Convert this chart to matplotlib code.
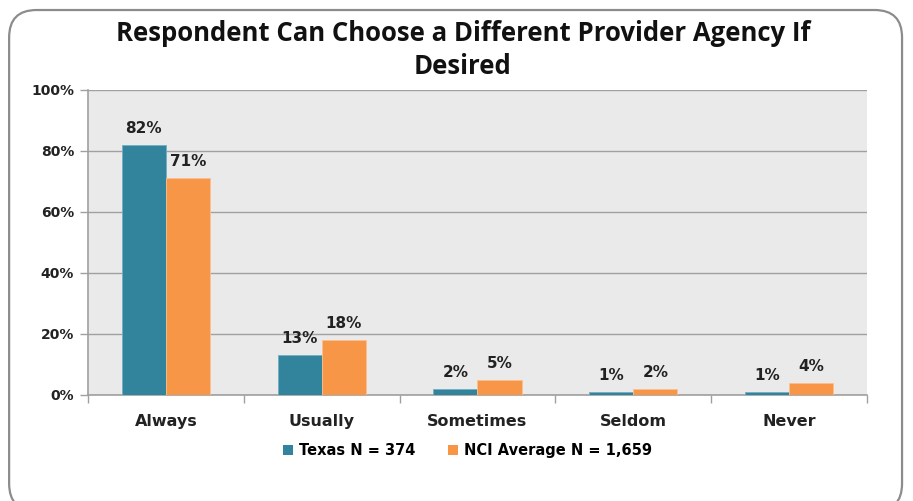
import matplotlib
matplotlib.use("Agg")
import matplotlib.pyplot as plt
import numpy as np
from matplotlib.patches import FancyBboxPatch, Patch

categories = ["Always", "Usually", "Sometimes", "Seldom", "Never"]
texas = [82, 13, 2, 1, 1]
nci = [71, 18, 5, 2, 4]
series_names = ["Texas N = 374", "NCI Average N = 1,659"]
yticks = [0, 20, 40, 60, 80, 100]

teal = "#31849B"
orange = "#F79646"
axis_gray = "#A0A0A0"

fig = plt.figure(figsize=(9.13, 5.01), dpi=100)

# rounded outer frame, kept behind the axes
frame = FancyBboxPatch((0.010, -0.02), 0.978, 1.0, boxstyle="round,pad=0,rounding_size=0.03",
                       transform=fig.transFigure, facecolor="none", edgecolor="#8C8C8C",
                       linewidth=1.6, mutation_aspect=913 / 501, zorder=-1)
fig.patches.append(frame)

ax = fig.add_axes([0.0964, 0.2116, 0.8532, 0.6088])
ax.set_facecolor("#EAEAEA")

x = np.arange(len(categories))
w = 0.283
b1 = ax.bar(x - w / 2, texas, w, color=teal, edgecolor="#6FAFC2", linewidth=0.6,
            label=series_names[0], zorder=3)
b2 = ax.bar(x + w / 2, nci, w, color=orange, edgecolor="#FBC08F", linewidth=0.6,
            label=series_names[1], zorder=3)

for bars, vals in ((b1, texas), (b2, nci)):
    for r, v in zip(bars, vals):
        ax.text(r.get_x() + r.get_width() / 2, v + 3.0, f"{v}%", ha="center", va="bottom",
                fontsize=11, fontweight="bold", color="#222222", family="DejaVu Sans")

ax.set_xlim(-0.5, len(categories) - 0.5)
ax.set_ylim(0, 100)
ax.set_yticks(yticks)
ax.set_yticklabels([f"{t}%" for t in yticks], fontsize=10, fontweight="bold", color="#222222")
ax.yaxis.grid(True, color=axis_gray, linewidth=1.0, zorder=0)
ax.set_axisbelow(True)

ax.set_xticks(x)
ax.set_xticklabels(categories, fontsize=11.5, fontweight="bold", color="#222222")
ax.tick_params(axis="x", length=0, pad=14)
ax.set_xticks(np.arange(-0.5, len(categories) + 0.5, 1), minor=True)
ax.tick_params(axis="x", which="minor", length=6, color=axis_gray, width=1)
ax.tick_params(axis="y", length=6, color=axis_gray, width=1, pad=4)

for s in ["top", "right"]:
    ax.spines[s].set_visible(False)
ax.spines["left"].set_color(axis_gray)
ax.spines["bottom"].set_color(axis_gray)
ax.spines["left"].set_linewidth(1.2)
ax.spines["bottom"].set_linewidth(1.2)

fig.text(0.507, 0.933, "Respondent Can Choose a Different Provider Agency If",
         ha="center", va="center", fontsize=18.5, fontweight="bold", family="Open Sans", color="#111111")
fig.text(0.507, 0.868, "Desired", ha="center", va="center", fontsize=18.5,
         fontweight="bold", family="Open Sans", color="#111111")

handles = [Patch(facecolor=teal), Patch(facecolor=orange)]
fig.legend(handles, series_names, loc="center", bbox_to_anchor=(0.512, 0.10), ncol=2,
           frameon=False, prop={"weight": "bold", "size": 10.5, "family": "DejaVu Sans"},
           handlelength=0.7, handleheight=0.7, handletextpad=0.4, columnspacing=2.2)

fig.savefig("out.png", dpi=100)
